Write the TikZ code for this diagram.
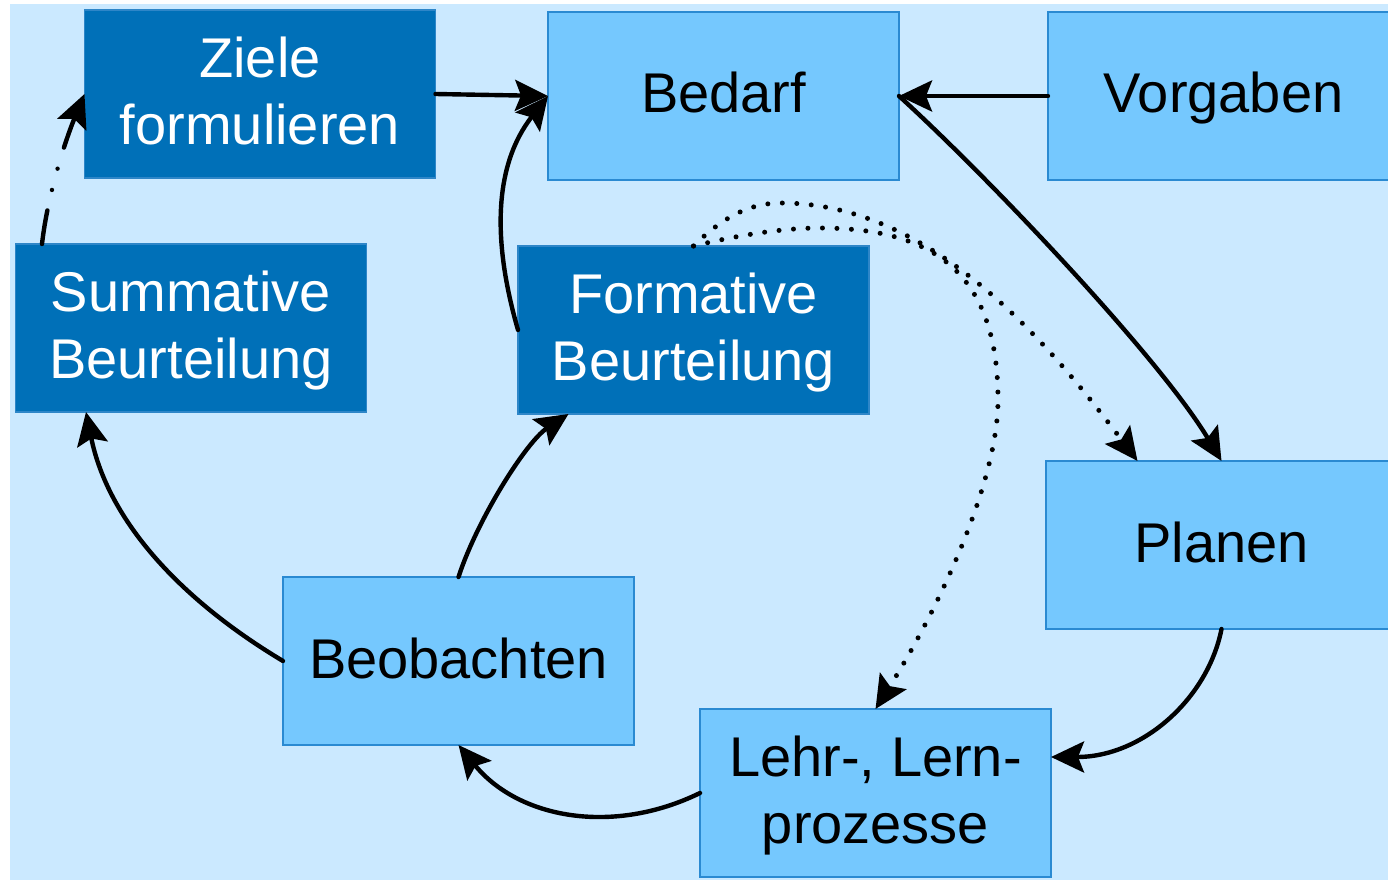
\documentclass[tikz,border=0pt]{standalone}
\usepackage{fontspec}
\setmainfont{Liberation Sans}
\usetikzlibrary{arrows.meta,calc}
\definecolor{bgblue}{HTML}{CBE9FF}
\definecolor{lightbox}{HTML}{75C8FE}
\definecolor{darkbox}{HTML}{0070B8}
\definecolor{lightedge}{HTML}{2A8AD2}
\definecolor{darkedge}{HTML}{2E86C8}
\newcommand\boxstrut{\rule[-12pt]{0pt}{58pt}}
\begin{document}
\begin{tikzpicture}[x=1pt,y=-1pt,
  box/.style={rectangle, minimum width=351pt, minimum height=168pt, inner sep=0pt, outer sep=0pt, align=center, font=\fontsize{56}{67}\selectfont, line width=1.2pt},
  lbox/.style={box, fill=lightbox, draw=lightedge, text=black},
  dbox/.style={box, fill=darkbox, draw=darkedge, text=white},
  myarrow/.style={-{Stealth[length=33pt,width=31pt,inset=6pt]}},
  flow/.style={myarrow, line width=4.4pt, black, line cap=round},
  dotflow/.style={myarrow, line width=5pt, black, line cap=round, dash pattern=on 0pt off 14.5pt},
  dashdotflow/.style={myarrow, line width=4.4pt, black, line cap=round, dash pattern=on 34pt off 21pt on 0pt off 22pt on 0pt off 22pt}]
\path[use as bounding box] (0,0) rectangle (1388,880);
\clip (0,0) rectangle (1388,880);
\fill[bgblue] (10,4) rectangle (1388,880);
\node[dbox] (zf) at (260,94) {\boxstrut Ziele\\\boxstrut formulieren};
\node[lbox] (bd) at (723.5,96) {\boxstrut Bedarf};
\node[lbox] (vg) at (1223.5,96) {\boxstrut Vorgaben};
\node[dbox] (sb) at (191,328) {\boxstrut Summative\\\boxstrut Beurteilung};
\node[dbox] (fb) at (693.5,330) {\boxstrut Formative\\\boxstrut Beurteilung};
\node[lbox] (pl) at (1221.5,545) {\boxstrut Planen};
\node[lbox] (bb) at (458.5,661) {\boxstrut Beobachten};
\node[lbox] (lp) at (875.5,793) {\boxstrut Lehr-, Lern-\\\boxstrut prozesse};
\draw[flow] (zf.east) -- (bd.west);
\draw[flow] (vg.west) -- (bd.east);
\draw[flow] (fb.west) .. controls (492,240) and (494,165) .. (bd.west);
\draw[flow] (bd.east) .. controls (987,176) and (1159,357) .. (pl.north);
\draw[flow] (pl.south) .. controls (1208,698) and (1143,757) .. ($(lp.east)+(0,-36)$);
\draw[flow] (lp.west) .. controls (612,836) and (518,818) .. (bb.south);
\draw[flow] (bb.west) .. controls (181,600) and (108,521) .. ($(sb.south)+(-105,0)$);
\draw[flow] (bb.north) .. controls (477,520) and (526,442) .. ($(fb.south)+(-125,0)$);
\draw[dashdotflow] ($(sb.north)+(-149,0)$) .. controls (47.5,195) and (65.5,140) .. (zf.west);
\draw[dotflow] (fb.north) .. controls (719,221) and (746,203) .. (781,203) .. controls (931,203) and (1047,341) .. ($(pl.north)+(-84,0)$);
\draw[dotflow] (fb.north) .. controls (735,236) and (780,228) .. (820,228) .. controls (930,228) and (998,270) .. (998,400) .. controls (998,480) and (941,605) .. (lp.north);
\end{tikzpicture}
\end{document}
